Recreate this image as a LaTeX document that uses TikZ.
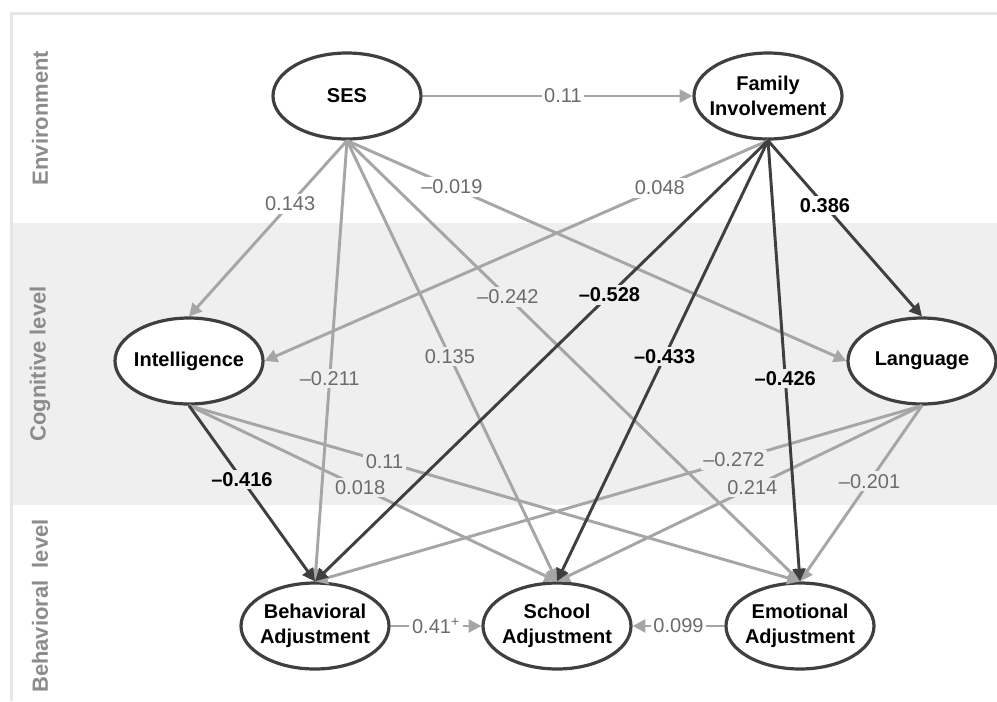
\documentclass[tikz,border=0pt]{standalone}
\usepackage{fontspec}
\setmainfont{Liberation Sans}
\usetikzlibrary{shapes.geometric,arrows.meta}
\definecolor{bandgray}{HTML}{EFEFEF}
\definecolor{framegray}{HTML}{E6E6E6}
\definecolor{edgegray}{HTML}{A6A6A6}
\definecolor{edgedark}{HTML}{3F3F3F}
\definecolor{numgray}{HTML}{6B6B6B}
\definecolor{sidegray}{HTML}{8C8C8C}

\begin{document}
\begin{tikzpicture}[x=0.75pt,y=0.75pt]
\tikzstyle{every node}+=[font=\fontsize{15pt}{18.5pt}\selectfont]
\tikzstyle{var}=[draw=edgedark,line width=2.4pt,fill=white,ellipse,minimum width=111pt,minimum height=64.5pt,inner xsep=-6pt,inner ysep=0pt,align=center,font=\fontsize{15pt}{18.5pt}\selectfont\bfseries]
\tikzstyle{side}=[rotate=90,text=sidegray,font=\fontsize{16.5pt}{20pt}\selectfont\bfseries]
\tikzstyle{gpath}=[draw=edgegray,line width=2.2pt,-{Triangle[length=9.5pt,width=9.5pt]}]
\tikzstyle{dpath}=[gpath,draw=edgedark]
\tikzstyle{wnum}=[fill=white,text=numgray,inner sep=2pt]
\tikzstyle{gnum}=[wnum,fill=bandgray]
\tikzstyle{wbold}=[wnum,text=black,font=\fontsize{15pt}{18.5pt}\selectfont\bfseries]
\tikzstyle{gbold}=[wbold,fill=bandgray]
\useasboundingbox (0,0) rectangle (997,-701);
% bands
\fill [framegray] (10,-12) rectangle (997,-701);
\fill [white] (13,-15) rectangle (997,-223);
\fill [bandgray] (13,-223) rectangle (997,-505);
\fill [white] (13,-505) rectangle (997,-701);
\node [side] (envlab) at (40,-118) {Environment};
\node [side] (coglab) at (40,-364) {Cognitive level};
\node [side] (behlab) at (40,-606) {Behavioral\ \ level};
% variables
\node [var] (ses) at (347,-96) {SES};
\node [var] (fam) at (768,-96) {Family\\Involvement};
\node [var] (int) at (189,-361) {Intelligence};
\node [var] (lang) at (922,-361) {Language};
\node [var] (beh) at (315,-626) {Behavioral\\Adjustment};
\node [var] (sch) at (557,-626) {School\\Adjustment};
\node [var] (emo) at (800,-626) {Emotional\\Adjustment};
% paths from SES
\draw [gpath] (ses.east) -- node [wnum,pos=0.52] {0.11} (fam.west);
\draw [gpath] (ses.south) -- node [wnum,pos=0.36] {0.143} (int.north);
\draw [gpath] (ses.south) -- node [wnum,pos=0.21] {--0.019} (lang.west);
\draw [gpath] (ses.south) -- node [gnum,pos=0.54] {--0.211} (beh.north);
\draw [gpath] (ses.south) -- node [gnum,pos=0.49] {0.135} (sch.north);
\draw [gpath] (ses.south) -- node [gnum,pos=0.355] {--0.242} (emo.north);
\draw [gpath] (fam.south) -- node [wnum,pos=0.215] {0.048} (int.east);
% paths from the cognitive level
\draw [gpath] (int.south) -- node [gnum,pos=0.32] {0.11} (emo.north);
\draw [gpath] (int.south) -- node [gnum,pos=0.465] {0.018} (sch.north);
\draw [gpath] (lang.south) -- node [gnum,pos=0.31] {--0.272} (beh.north);
\draw [gpath] (lang.south) -- node [gnum,pos=0.465] {0.214} (sch.north);
\draw [gpath] (lang.south) -- node [gnum,pos=0.43] {--0.201} (emo.north);
% paths from family involvement
\draw [dpath] (fam.south) -- node [wbold,pos=0.37] {0.386} (lang.north);
\draw [dpath] (fam.south) -- node [gbold,pos=0.35] {--0.528} (beh.north);
\draw [dpath] (fam.south) -- node [gbold,pos=0.49] {--0.433} (sch.north);
\draw [dpath] (fam.south) -- node [gbold,pos=0.54] {--0.426} (emo.north);
\draw [dpath] (int.south) -- node [gbold,pos=0.42] {--0.416} (beh.north);
% behavioral level
\draw [gpath] (beh.east) -- node [wnum] {0.41\textsuperscript{+}} (sch.west);
\draw [gpath] (emo.west) -- node [wnum] {0.099} (sch.east);
\end{tikzpicture}
\end{document}
